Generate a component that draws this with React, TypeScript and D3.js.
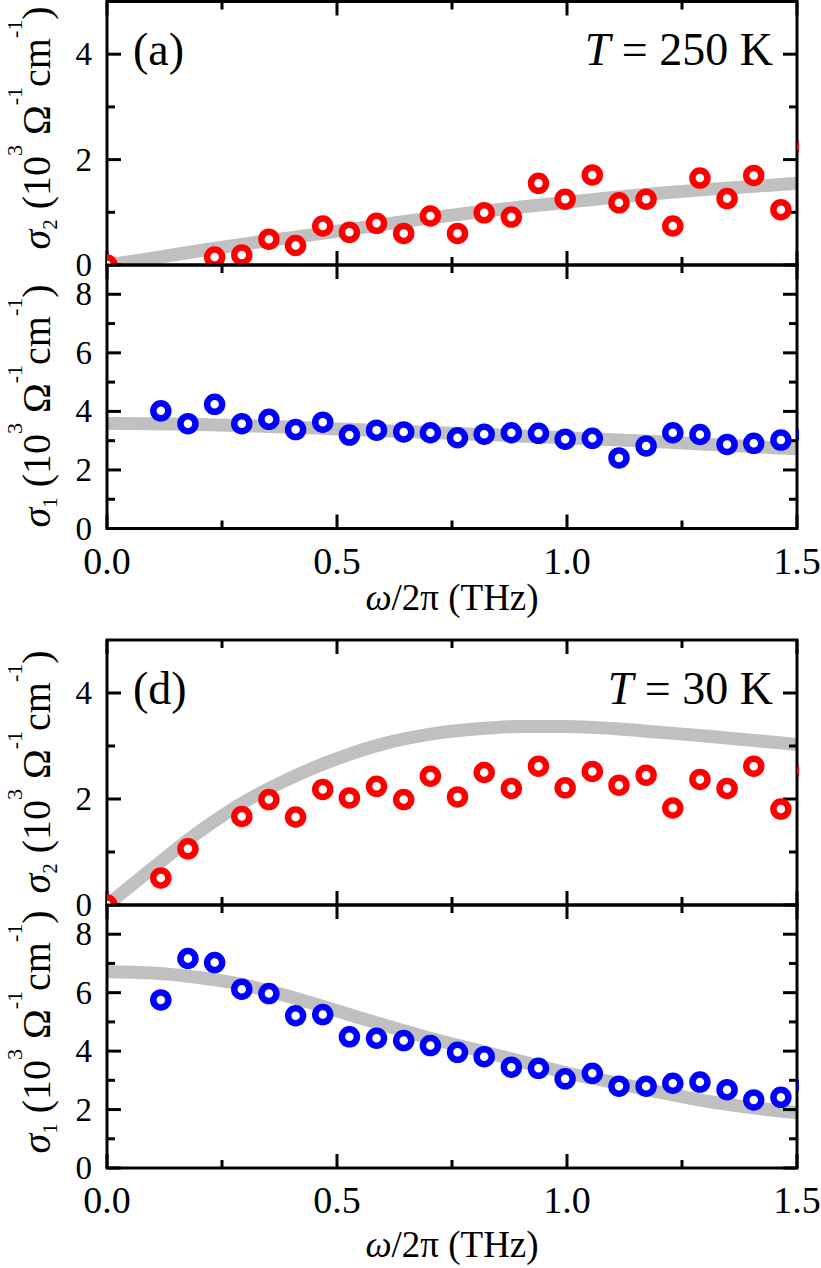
import React from "react";
import * as d3 from "d3";

// Measurement frequencies (THz)
const freqTHz = [0, 0.059, 0.117, 0.176, 0.234, 0.293, 0.352, 0.41, 0.469, 0.527, 0.586, 0.645, 0.703, 0.762, 0.82, 0.879, 0.938, 0.996, 1.055, 1.113, 1.172, 1.23, 1.289, 1.348, 1.406, 1.465, 1.523];

// T = 250 K
const sigma2_250K: (number | null)[] = [0, null, null, null, 0.15, 0.19, 0.49, 0.37, 0.74, 0.62, 0.79, 0.6, 0.93, 0.6, 0.99, 0.91, 1.55, 1.25, 1.71, 1.18, 1.25, 0.74, 1.65, 1.26, 1.7, 1.05, 2.25];
const sigma1_250K: (number | null)[] = [null, null, 4.02, 3.58, 4.24, 3.58, 3.73, 3.38, 3.63, 3.19, 3.36, 3.3, 3.27, 3.1, 3.22, 3.27, 3.25, 3.05, 3.08, 2.41, 2.82, 3.27, 3.21, 2.87, 2.91, 3.02, 3.19];

// T = 30 K
const sigma2_30K: (number | null)[] = [0, null, 0.51, 1.06, null, 1.67, 1.99, 1.66, 2.18, 2.02, 2.24, 1.99, 2.43, 2.04, 2.5, 2.2, 2.62, 2.21, 2.52, 2.26, 2.45, 1.83, 2.37, 2.2, 2.62, 1.81, 2.53];
const sigma1_30K: (number | null)[] = [null, null, 5.75, 7.17, 7.03, 6.12, 5.97, 5.21, 5.25, 4.49, 4.44, 4.36, 4.19, 3.96, 3.81, 3.45, 3.41, 3.05, 3.24, 2.8, 2.8, 2.9, 2.94, 2.68, 2.33, 2.42, 2.82];

// Fit curves (gray)
const fitFreq = [0, 0.1, 0.2, 0.3, 0.4, 0.5, 0.6, 0.7, 0.8, 0.9, 1.0, 1.1, 1.2, 1.3, 1.4, 1.5];
const fit2_250K = [0, 0.13, 0.27, 0.4, 0.52, 0.64, 0.77, 0.89, 1.0, 1.1, 1.19, 1.28, 1.36, 1.43, 1.49, 1.55];
const fit1_250K = [3.59, 3.58, 3.55, 3.51, 3.46, 3.4, 3.34, 3.28, 3.22, 3.16, 3.1, 3.03, 2.96, 2.88, 2.8, 2.72];
const fit2_30K = [0, 0.7, 1.38, 1.95, 2.4, 2.76, 3.04, 3.22, 3.32, 3.37, 3.37, 3.33, 3.26, 3.19, 3.11, 3.03];
const fit1_30K = [6.72, 6.67, 6.52, 6.26, 5.85, 5.38, 4.9, 4.45, 4.05, 3.65, 3.25, 2.93, 2.6, 2.3, 2.07, 1.89];

// Ticks
const xMajor = [0, 0.5, 1.0, 1.5];
const xMinor = [0.25, 0.75, 1.25];
const s2Major = [0, 2, 4];
const s2Minor = [1, 3];
const s1Major = [0, 2, 4, 6, 8];
const s1Minor = [1, 3, 5, 7];

const FONT = "Liberation Serif, DejaVu Serif, serif";
const X0 = 107;
const X1 = 797;
const MAJ = 14;
const MIN = 8;

const xScale = d3.scaleLinear().domain([0, 1.5]).range([X0, X1]);

type PanelProps = {
  id: string;
  top: number;
  bottom: number;
  yMax: number;
  yMajor: number[];
  yMinor: number[];
  values: (number | null)[];
  fit: number[];
  color: string;
  xLabels: boolean;
};

function Panel({ id, top, bottom, yMax, yMajor, yMinor, values, fit, color, xLabels }: PanelProps) {
  const y = d3.scaleLinear().domain([0, yMax]).range([bottom, top]);
  const line = d3
    .line<number>()
    .x((_d, i) => xScale(fitFreq[i]))
    .y((d) => y(d))
    .curve(d3.curveMonotoneX);
  const pts = values
    .map((v, i) => ({ x: freqTHz[i], v }))
    .filter((p) => p.v !== null) as { x: number; v: number }[];
  const clipId = `clip-${id}`;
  return (
    <g>
      <defs>
        <clipPath id={clipId}>
          <rect x={X0} y={top} width={X1 - X0 + 2} height={bottom - top} />
        </clipPath>
      </defs>
      <g clipPath={`url(#${clipId})`}>
        <path d={line(fit) || ""} fill="none" stroke="#c0c0c0" strokeWidth={13} />
      </g>
      <g stroke="#000" strokeWidth={3}>
        {xMajor.map((t) => (
          <g key={"xM" + t}>
            <line x1={xScale(t)} x2={xScale(t)} y1={bottom} y2={bottom - MAJ} />
            <line x1={xScale(t)} x2={xScale(t)} y1={top} y2={top + MAJ} />
          </g>
        ))}
        {xMinor.map((t) => (
          <g key={"xm" + t}>
            <line x1={xScale(t)} x2={xScale(t)} y1={bottom} y2={bottom - MIN} />
            <line x1={xScale(t)} x2={xScale(t)} y1={top} y2={top + MIN} />
          </g>
        ))}
        {yMajor.map((t) => (
          <g key={"yM" + t}>
            <line x1={X0} x2={X0 + MAJ} y1={y(t)} y2={y(t)} />
            <line x1={X1} x2={X1 - MAJ} y1={y(t)} y2={y(t)} />
          </g>
        ))}
        {yMinor.map((t) => (
          <g key={"ym" + t}>
            <line x1={X0} x2={X0 + MIN} y1={y(t)} y2={y(t)} />
            <line x1={X1} x2={X1 - MIN} y1={y(t)} y2={y(t)} />
          </g>
        ))}
      </g>
      <rect x={X0} y={top} width={X1 - X0} height={bottom - top} fill="none" stroke="#000" strokeWidth={3} />
      <g clipPath={`url(#${clipId})`}>
        {pts.map((p, i) => (
          <circle key={i} cx={xScale(p.x)} cy={y(p.v)} r={7.5} fill="#fff" stroke={color} strokeWidth={6.5} />
        ))}
      </g>
      {yMajor.map((t) => (
        <text key={"yl" + t} x={92} y={y(t) + 11} textAnchor="end" style={{ fontFamily: FONT, fontSize: 33 }}>
          {d3.format("d")(t)}
        </text>
      ))}
      {xLabels &&
        xMajor.map((t) => (
          <text key={"xl" + t} x={xScale(t)} y={bottom + 45} textAnchor="middle" style={{ fontFamily: FONT, fontSize: 38 }}>
            {d3.format(".1f")(t)}
          </text>
        ))}
    </g>
  );
}

function YLabel({ cy, sub }: { cy: number; sub: string }) {
  return (
    <text transform={`translate(50, ${cy}) rotate(-90)`} textAnchor="middle" style={{ fontFamily: FONT, fontSize: 40 }}>
      <tspan fontStyle="italic">σ</tspan>
      <tspan style={{ fontSize: 21 }} dy={7}>{sub}</tspan>
      <tspan dy={-7}>{" (10"}</tspan>
      <tspan style={{ fontSize: 22 }} dy={-28}>3</tspan>
      <tspan dy={28}>{" Ω"}</tspan>
      <tspan style={{ fontSize: 22 }} dy={-28}>-1</tspan>
      <tspan dy={28}>cm</tspan>
      <tspan style={{ fontSize: 22 }} dy={-28}>-1</tspan>
      <tspan dy={28}>)</tspan>
    </text>
  );
}

function XTitle({ y }: { y: number }) {
  return (
    <text x={452} y={y} textAnchor="middle" style={{ fontFamily: FONT, fontSize: 37 }}>
      <tspan fontStyle="italic">ω</tspan>
      <tspan>{"/2π (THz)"}</tspan>
    </text>
  );
}

function Annot({ label, temp, y }: { label: string; temp: string; y: number }) {
  return (
    <g style={{ fontFamily: FONT, fontSize: 46 }}>
      <text x={133} y={y}>{label}</text>
      <text x={773} y={y} textAnchor="end">
        <tspan fontStyle="italic">T</tspan>
        <tspan>{" = " + temp}</tspan>
      </text>
    </g>
  );
}

export default function App() {
  return (
    <svg
      width={821}
      height={1268}
      style={{ position: "absolute", left: 0, top: 0, background: "#fff" }}
    >
      <rect x={0} y={0} width={821} height={1268} fill="#fff" />
      <Panel id="a2" top={1.5} bottom={265} yMax={5} yMajor={s2Major} yMinor={s2Minor} values={sigma2_250K} fit={fit2_250K} color="#ff0000" xLabels={false} />
      <Panel id="a1" top={265} bottom={528.5} yMax={9} yMajor={s1Major} yMinor={s1Minor} values={sigma1_250K} fit={fit1_250K} color="#0000ff" xLabels={true} />
      <Panel id="d2" top={640} bottom={905} yMax={5} yMajor={s2Major} yMinor={s2Minor} values={sigma2_30K} fit={fit2_30K} color="#ff0000" xLabels={false} />
      <Panel id="d1" top={905} bottom={1168} yMax={9} yMajor={s1Major} yMinor={s1Minor} values={sigma1_30K} fit={fit1_30K} color="#0000ff" xLabels={true} />
      <YLabel cy={128} sub="2" />
      <YLabel cy={406} sub="1" />
      <YLabel cy={772} sub="2" />
      <YLabel cy={1032} sub="1" />
      <XTitle y={610} />
      <XTitle y={1257} />
      <Annot label="(a)" temp="250 K" y={65} />
      <Annot label="(d)" temp="30 K" y={704} />
    </svg>
  );
}
